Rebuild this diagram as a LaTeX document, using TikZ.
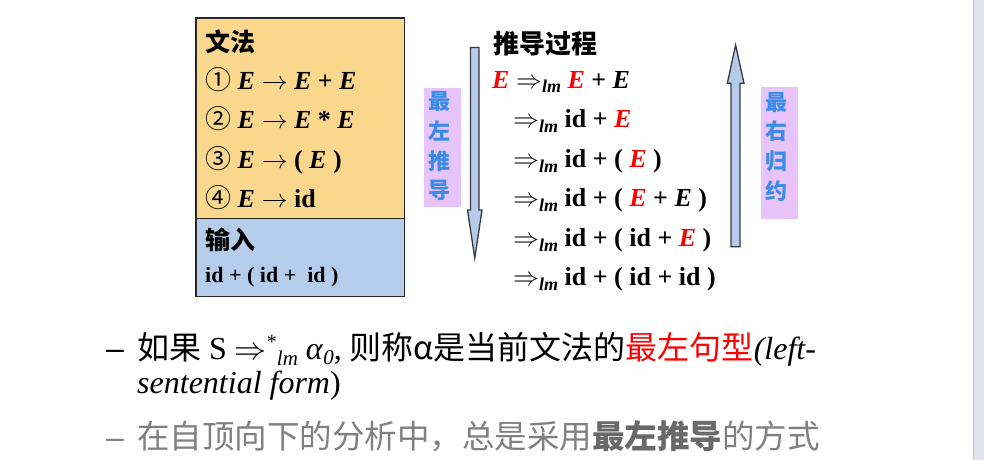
\RequirePackage{fix-cm}
\documentclass[tikz,border=0pt]{standalone}
\usepackage{fontspec}
\setmainfont{Liberation Serif}
\newfontfamily\cjk{Noto Sans CJK SC}
\newfontfamily\lsans{Liberation Sans}
\definecolor{gramfill}{RGB}{249,216,142}
\definecolor{inpfill}{RGB}{181,205,235}
\definecolor{purp}{RGB}{231,196,250}
\definecolor{lblue}{RGB}{58,140,232}
\definecolor{arrfill}{RGB}{182,203,234}
\definecolor{arredge}{RGB}{55,58,62}
\definecolor{boxedge}{RGB}{40,40,40}
\definecolor{greytxt}{RGB}{128,128,128}
\definecolor{greybold}{RGB}{105,105,105}
\definecolor{stripfill}{RGB}{225,227,237}
\definecolor{stripedge}{RGB}{188,188,198}
\newcommand\bE{\textbf{\textit{E}}}
\newcommand\rE{\textcolor{red}{\textbf{\textit{E}}}}
\newcommand\mylm{\raisebox{-5pt}{\fontsize{18}{18}\selectfont\bfseries\itshape lm}}
\newcommand\myder{$\Rightarrow$\mylm}
\begin{document}
\begin{tikzpicture}[x=1pt,y=-1pt,
  panel/.style={draw=boxedge,line width=1.5pt,anchor=north west,inner sep=0,minimum width=208.5pt},
  txt/.style={anchor=base west,inner sep=0,font=\fontsize{26}{26}\selectfont\bfseries},
  head/.style={anchor=base west,inner sep=0,font=\fontsize{25}{25}\selectfont\cjk\bfseries},
  tag/.style={fill=purp,inner sep=0,anchor=north west},
  tagtxt/.style={inner sep=0,align=center,text=lblue,font=\fontsize{22}{29.7}\selectfont\cjk\bfseries},
  arr/.style={fill=arrfill,draw=arredge,line width=1.3pt,line join=miter},
  body/.style={anchor=base west,inner sep=0,font=\fontsize{32}{32}\selectfont}
]
\useasboundingbox (0,0) rectangle (984,460);
\fill[white] (0,0) rectangle (984,460);
\fill[stripfill] (973,0) rectangle (984,460);
\draw[stripedge,line width=1pt] (973.5,0) -- (973.5,460);

% grammar and input panels
\node[panel,fill=gramfill,minimum height=200.4pt] (gram) at (195,17.3) {};
\node[panel,fill=inpfill,minimum height=78pt] (inp) at (195,217.7) {};

\node[head] (wf) at (205,51.2) {文法};
\node[txt] (g1) at (205,89) {{\cjk\mdseries ①} \bE\ $\rightarrow$ \bE\ + \bE};
\node[txt] (g2) at (205,128.5) {{\cjk\mdseries ②} \bE\ $\rightarrow$ \bE\ * \bE};
\node[txt] (g3) at (205,168) {{\cjk\mdseries ③} \bE\ $\rightarrow$ ( \bE\ )};
\node[txt] (g4) at (205,207.5) {{\cjk\mdseries ④} \bE\ $\rightarrow$ id};

\node[head] (sr) at (205,249.5) {输入};
\node[txt,font=\fontsize{22}{22}\selectfont\bfseries] (in) at (205,282) {id + ( id +\ \ id )};

% derivation
\node[txt] (dh) at (493,53) {\cjk 推导过程};
\node[txt] (d1) at (492,88) {\rE\ \myder\ \rE\ + \bE};
\node[txt] (d2) at (513,127.5) {\myder\ id + \rE};
\node[txt] (d3) at (513,167) {\myder\ id + ( \rE\ )};
\node[txt] (d4) at (513,206.5) {\myder\ id + ( \rE\ + \bE\ )};
\node[txt] (d5) at (513,246) {\myder\ id + ( id + \rE\ )};
\node[txt] (d6) at (513,285) {\myder\ id + ( id + id )};

% arrows
\path[arr] (470.5,47.5) -- (479,47.5) -- (479,210) -- (482,210) -- (474.75,258) -- (467.5,210) -- (470.5,210) -- cycle;
\path[arr] (731,246.7) -- (740,246.7) -- (740,83.3) -- (744,83.3) -- (735.6,45) -- (727.3,83.3) -- (731,83.3) -- cycle;

% tags
\node[tag,minimum width=36.7pt,minimum height=119.4pt] (lt) at (424,87.3) {};
\node[tagtxt] (ltt) at (439.3,146.2) {最\\左\\推\\导};
\node[tag,minimum width=37pt,minimum height=131.6pt] (rt) at (760.7,86.7) {};
\node[tagtxt] (rtt) at (776.7,146.7) {最\\右\\归\\约};

% bottom text
\node[body] (dash1) at (106,359) {\lsans –};
\node[body] (l1) at (137,359) {{\cjk 如果} S $\Rightarrow$\raisebox{11pt}{\fontsize{20}{20}\selectfont *}\raisebox{-6pt}{\fontsize{21}{21}\selectfont\itshape lm} \textit{α}\raisebox{-5pt}{\fontsize{21}{21}\selectfont\itshape 0}, {\cjk 则称α是当前文法的\textcolor{red}{最左句型}}\textit{(left-}};
\node[body] (l2) at (137,393) {\textit{sentential form})};
\node[body,text=greytxt] (dash3) at (106,448) {\lsans –};
\node[body,text=greytxt,font=\fontsize{32.5}{32.5}\selectfont\cjk] (l3) at (137,448) {在自顶向下的分析中，总是采用{\bfseries\color{greybold}最左推导}的方式};
\end{tikzpicture}
\end{document}
